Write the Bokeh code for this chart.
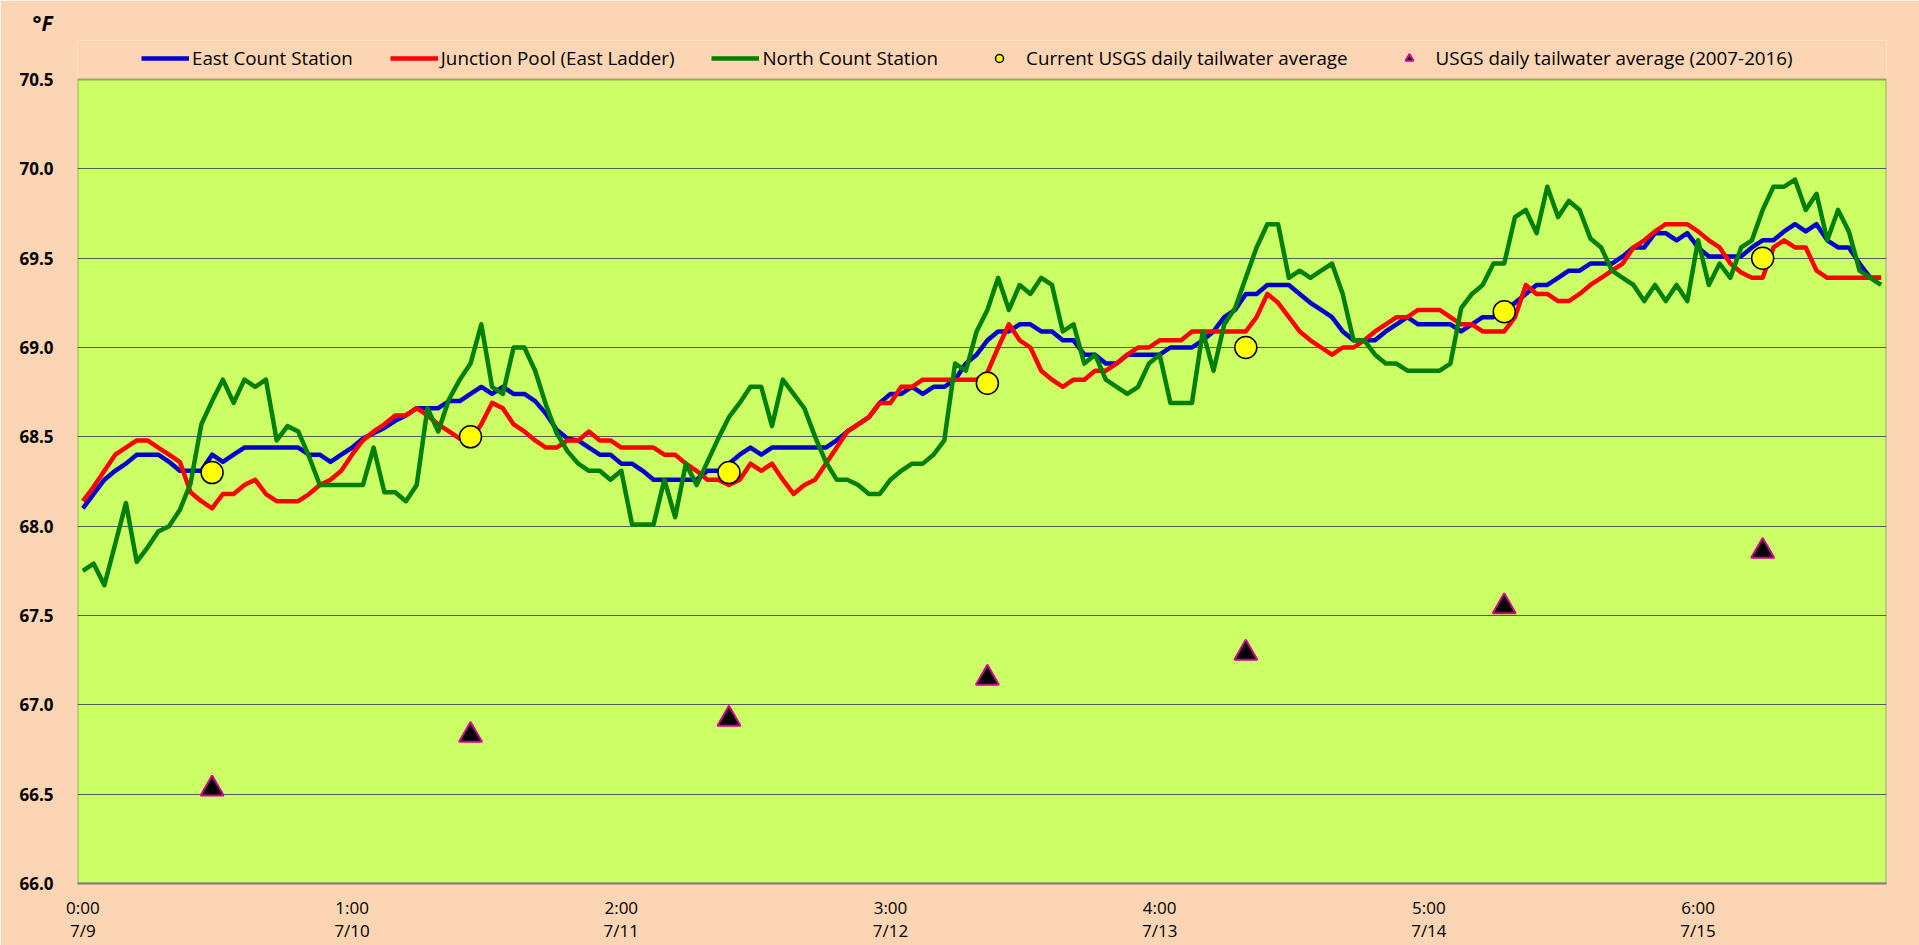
from bokeh.plotting import figure
from bokeh.models import Range1d, FixedTicker, Legend, LegendItem, NumeralTickFormatter, BoxAnnotation
from bokeh.embed import file_html
from bokeh.resources import INLINE

# ---- data (hourly, 7/9 0:00 -> 7/15 23:00) ----
hours = list(range(168))

east_count = [
    68.10, 68.18, 68.26, 68.31, 68.35, 68.40, 68.40, 68.40, 68.36, 68.31,
    68.31, 68.31, 68.40, 68.36, 68.40, 68.44, 68.44, 68.44, 68.44, 68.44,
    68.44, 68.40, 68.40, 68.36, 68.40, 68.44, 68.49, 68.52, 68.55, 68.59,
    68.62, 68.66, 68.66, 68.66, 68.70, 68.70, 68.74, 68.78, 68.74, 68.78,
    68.74, 68.74, 68.70, 68.63, 68.54, 68.49, 68.48, 68.44, 68.40, 68.40,
    68.35, 68.35, 68.31, 68.26, 68.26, 68.26, 68.26, 68.26, 68.31, 68.31,
    68.35, 68.40, 68.44, 68.40, 68.44, 68.44, 68.44, 68.44, 68.44, 68.44,
    68.48, 68.53, 68.57, 68.61, 68.69, 68.74, 68.74, 68.78, 68.74, 68.78,
    68.78, 68.82, 68.91, 68.96, 69.04, 69.09, 69.09, 69.13, 69.13, 69.09,
    69.09, 69.04, 69.04, 68.96, 68.96, 68.91, 68.91, 68.96, 68.96, 68.96,
    68.96, 69.00, 69.00, 69.00, 69.04, 69.09, 69.17, 69.21, 69.30, 69.30,
    69.35, 69.35, 69.35, 69.30, 69.25, 69.21, 69.17, 69.09, 69.04, 69.04,
    69.04, 69.09, 69.13, 69.17, 69.13, 69.13, 69.13, 69.13, 69.09, 69.13,
    69.17, 69.17, 69.21, 69.25, 69.30, 69.35, 69.35, 69.39, 69.43, 69.43,
    69.47, 69.47, 69.47, 69.51, 69.56, 69.56, 69.64, 69.64, 69.60, 69.64,
    69.56, 69.51, 69.51, 69.51, 69.51, 69.56, 69.60, 69.60, 69.65, 69.69,
    69.65, 69.69, 69.60, 69.56, 69.56, 69.47, 69.39, 69.39,
]

junction_pool = [
    68.14, 68.22, 68.31, 68.40, 68.44, 68.48, 68.48, 68.44, 68.40, 68.36,
    68.19, 68.14, 68.10, 68.18, 68.18, 68.23, 68.26, 68.18, 68.14, 68.14,
    68.14, 68.18, 68.23, 68.26, 68.31, 68.40, 68.48, 68.53, 68.57, 68.62,
    68.62, 68.66, 68.62, 68.57, 68.53, 68.49, 68.48, 68.57, 68.69, 68.66,
    68.57, 68.53, 68.48, 68.44, 68.44, 68.48, 68.48, 68.53, 68.48, 68.48,
    68.44, 68.44, 68.44, 68.44, 68.40, 68.40, 68.35, 68.31, 68.26, 68.26,
    68.23, 68.26, 68.35, 68.31, 68.35, 68.26, 68.18, 68.23, 68.26, 68.35,
    68.44, 68.53, 68.57, 68.61, 68.69, 68.69, 68.78, 68.78, 68.82, 68.82,
    68.82, 68.82, 68.82, 68.82, 68.86, 69.00, 69.13, 69.04, 69.00, 68.87,
    68.82, 68.78, 68.82, 68.82, 68.87, 68.87, 68.91, 68.96, 69.00, 69.00,
    69.04, 69.04, 69.04, 69.09, 69.09, 69.09, 69.09, 69.09, 69.09, 69.17,
    69.30, 69.25, 69.17, 69.09, 69.04, 69.00, 68.96, 69.00, 69.00, 69.04,
    69.09, 69.13, 69.17, 69.17, 69.21, 69.21, 69.21, 69.17, 69.13, 69.13,
    69.09, 69.09, 69.09, 69.17, 69.35, 69.30, 69.30, 69.26, 69.26, 69.30,
    69.35, 69.39, 69.43, 69.47, 69.56, 69.60, 69.65, 69.69, 69.69, 69.69,
    69.65, 69.60, 69.56, 69.47, 69.42, 69.39, 69.39, 69.56, 69.60, 69.56,
    69.56, 69.43, 69.39, 69.39, 69.39, 69.39, 69.39, 69.39,
]

north_count = [
    67.75, 67.79, 67.67, 67.90, 68.13, 67.80, 67.88, 67.97, 68.00, 68.09,
    68.24, 68.57, 68.70, 68.82, 68.69, 68.82, 68.78, 68.82, 68.48, 68.56,
    68.53, 68.39, 68.23, 68.23, 68.23, 68.23, 68.23, 68.44, 68.19, 68.19,
    68.14, 68.23, 68.66, 68.53, 68.71, 68.82, 68.91, 69.13, 68.78, 68.74,
    69.00, 69.00, 68.87, 68.68, 68.52, 68.42, 68.35, 68.31, 68.31, 68.26,
    68.31, 68.01, 68.01, 68.01, 68.26, 68.05, 68.35, 68.23, 68.36, 68.49,
    68.61, 68.69, 68.78, 68.78, 68.56, 68.82, 68.74, 68.66, 68.50, 68.36,
    68.26, 68.26, 68.23, 68.18, 68.18, 68.26, 68.31, 68.35, 68.35, 68.40,
    68.48, 68.91, 68.87, 69.09, 69.21, 69.39, 69.21, 69.35, 69.30, 69.39,
    69.35, 69.09, 69.13, 68.91, 68.96, 68.82, 68.78, 68.74, 68.78, 68.91,
    68.96, 68.69, 68.69, 68.69, 69.09, 68.87, 69.13, 69.22, 69.39, 69.56,
    69.69, 69.69, 69.39, 69.43, 69.39, 69.43, 69.47, 69.30, 69.04, 69.04,
    68.96, 68.91, 68.91, 68.87, 68.87, 68.87, 68.87, 68.91, 69.22, 69.30,
    69.35, 69.47, 69.47, 69.73, 69.77, 69.64, 69.90, 69.73, 69.82, 69.77,
    69.61, 69.56, 69.43, 69.39, 69.35, 69.26, 69.35, 69.26, 69.35, 69.26,
    69.60, 69.35, 69.47, 69.39, 69.56, 69.60, 69.77, 69.90, 69.90, 69.94,
    69.77, 69.86, 69.60, 69.77, 69.65, 69.43, 69.39, 69.35,
]

daily_hours = [12, 36, 60, 84, 108, 132, 156]
usgs_current = [68.3, 68.5, 68.3, 68.8, 69.0, 69.2, 69.5]
usgs_2007_2016 = [66.53, 66.83, 66.92, 67.15, 67.29, 67.55, 67.86]

tick_hours = [0, 25, 50, 75, 100, 125, 150]
tick_labels = ["0:00\n7/9", "1:00\n7/10", "2:00\n7/11", "3:00\n7/12",
               "4:00\n7/13", "5:00\n7/14", "6:00\n7/15"]
y_ticks = [66.0, 66.5, 67.0, 67.5, 68.0, 68.5, 69.0, 69.5, 70.0, 70.5]

FONT = "Open Sans"

# layout (pixels)
W, H = 1919, 945
LEFT, RIGHT, TOP, BOTTOM = 77, 33, 40, 62
PLOT_TOP_PX = 79                       # top of the green plot area
frame_h = H - TOP - BOTTOM
y_lo, y_hi = y_ticks[0], y_ticks[-1]
y_end = y_lo + (y_hi - y_lo) * frame_h / (H - BOTTOM - PLOT_TOP_PX)
x_lo, x_hi = -0.5, len(hours) - 0.5

p = figure(width=W, height=H, output_backend="svg", toolbar_location=None,
           x_range=Range1d(x_lo, x_hi), y_range=Range1d(y_lo, y_end),
           min_border_left=LEFT, min_border_right=RIGHT, min_border_top=TOP,
           min_border_bottom=BOTTOM)
p.background_fill_color = "#FCD5B4"
p.border_fill_color = "#FCD5B4"
p.outline_line_color = None

# green plot area with black border
p.add_layout(BoxAnnotation(left=x_lo, right=x_hi, bottom=y_lo, top=y_hi,
                           fill_color="#CCFF66", fill_alpha=1.0,
                           line_color="black", line_width=2, level="image"))

p.title.text = "°F"
p.title.text_font = FONT
p.title.text_font_size = "21px"
p.title.text_font_style = "bold italic"
p.title.text_color = "black"
p.title.align = "left"
p.title.offset = -45
p.title.standoff = 7

# axes
p.xaxis.ticker = FixedTicker(ticks=tick_hours)
p.xaxis.major_label_overrides = {h: l for h, l in zip(tick_hours, tick_labels)}
p.xaxis.major_tick_line_color = None
p.xaxis.minor_tick_line_color = None
p.xaxis.axis_line_color = "#7F7F7F"
p.xaxis.axis_line_width = 2
p.xaxis.major_label_text_font = FONT
p.xaxis.major_label_text_font_size = "17px"
p.xaxis.major_label_text_color = "black"
p.xaxis.major_label_text_line_height = 1.0
p.xaxis.major_label_standoff = 6

p.yaxis.ticker = FixedTicker(ticks=y_ticks)
p.yaxis.formatter = NumeralTickFormatter(format="0.0")
p.yaxis.major_tick_line_color = None
p.yaxis.minor_tick_line_color = None
p.yaxis.axis_line_color = None
p.yaxis.major_label_text_font = FONT
p.yaxis.major_label_text_font_size = "17px"
p.yaxis.major_label_text_font_style = "bold"
p.yaxis.major_label_text_color = "black"
p.yaxis.major_label_standoff = 18

p.xgrid.grid_line_color = None
p.ygrid.ticker = FixedTicker(ticks=y_ticks[1:-1])
p.ygrid.grid_line_color = "#595959"
p.ygrid.grid_line_width = 1

r_east = p.line(hours, east_count, line_color="#0000CC", line_width=4.5, line_join="round")
r_junc = p.line(hours, junction_pool, line_color="#FF0000", line_width=4.5, line_join="round")
r_north = p.line(hours, north_count, line_color="#008000", line_width=4.5, line_join="round")
r_cur = p.scatter(daily_hours, usgs_current, marker="circle", size=22,
                  fill_color="#FFFF00", line_color="black", line_width=1.5)
r_hist = p.scatter(daily_hours, usgs_2007_2016, marker="triangle", size=23,
                   fill_color="black", line_color="#CC0099", line_width=2)

legend = Legend(items=[
    LegendItem(label="East Count Station", renderers=[r_east]),
    LegendItem(label="Junction Pool (East Ladder)", renderers=[r_junc]),
    LegendItem(label="North Count Station", renderers=[r_north]),
    LegendItem(label="Current USGS daily tailwater average", renderers=[r_cur]),
    LegendItem(label="USGS daily tailwater average (2007-2016)", renderers=[r_hist]),
], orientation="horizontal", location=(64, 812),
    glyph_width=48, glyph_height=20, label_standoff=3, spacing=37,
    padding=4, margin=0, background_fill_alpha=0, border_line_color=None,
    label_text_font=FONT, label_text_font_size="18.8px", label_text_color="black")
p.add_layout(legend, "center")

open("out.html", "w").write(file_html(p, INLINE))
